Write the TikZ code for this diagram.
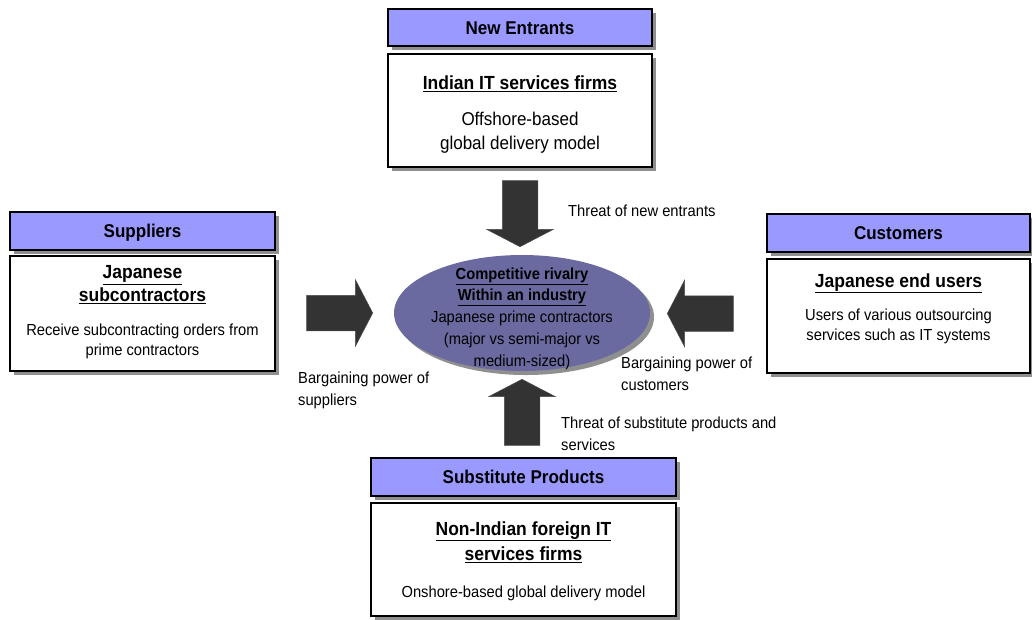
\documentclass[tikz,border=0pt]{standalone}
\usepackage{fontspec}
\setmainfont[FakeStretch=0.92]{Liberation Sans}
\usetikzlibrary{shapes.geometric,shapes.arrows,shadows}

\definecolor{headblue}{HTML}{9999FF}
\definecolor{rivalryfill}{HTML}{6A6AA0}
\definecolor{arrowgray}{HTML}{333333}
\definecolor{shadowgray}{HTML}{8F8F8F}

\newcommand{\headfont}{\fontsize{18.5}{22}\selectfont\bfseries}
\newcommand{\titlefont}{\fontsize{19}{25}\selectfont\bfseries}
\newcommand{\bodyfont}{\fontsize{16}{20}\selectfont}
\newcommand{\labelfont}{\fontsize{16}{22}\selectfont}

\begin{document}
\begin{tikzpicture}[x=10pt,y=10pt]
\tikzstyle{every node}+=[inner sep=0pt]
\tikzstyle{shadowed}=[drop shadow={shadow xshift=4pt,shadow yshift=-4pt,fill=shadowgray,opacity=1}]
\tikzstyle{forcehead}=[rectangle,draw=black,line width=2pt,fill=headblue,shadowed,font=\headfont,text height=13.2pt,text depth=0pt]
\tikzstyle{forcebox}=[rectangle,draw=black,line width=2pt,fill=white,shadowed]
\tikzstyle{boxtext}=[align=center,font=\bodyfont]
\tikzstyle{pusharrow}=[single arrow,draw=black!70,fill=arrowgray,line width=0.5pt,minimum height=66pt,minimum width=66pt,single arrow head extend=15.5pt,single arrow tip angle=125,inner ysep=17.5pt,anchor=tip]
\tikzstyle{forcelabel}=[align=left,anchor=west,font=\labelfont]
\useasboundingbox (0,0) rectangle (103.2,-61.9);

% new entrants
\node[forcehead,minimum width=264pt,minimum height=37pt] (entrantshead) at (52.0,-2.75) {New Entrants};
\node[forcebox,minimum width=264pt,minimum height=113pt] (entrantsbox) at (52.0,-11.05) {};
\node[boxtext,font=\fontsize{18.5}{24}\selectfont] (entrantstext) at (52.0,-11.5) {{\titlefont\underline{Indian IT services firms}}\\[12pt] Offshore-based\\ global delivery model};

% suppliers
\node[forcehead,minimum width=265pt,minimum height=38pt] (suppliershead) at (14.25,-23.1) {Suppliers};
\node[forcebox,minimum width=265pt,minimum height=115pt] (suppliersbox) at (14.25,-31.35) {};
\node[boxtext] (supplierstext) at (14.25,-31.25) {{\titlefont\underline{Japanese}}\\[3pt] {\titlefont\underline{subcontractors}}\\[14pt] Receive subcontracting orders from\\ prime contractors};

% customers
\node[forcehead,minimum width=263pt,minimum height=38pt] (customershead) at (89.85,-23.3) {Customers};
\node[forcebox,minimum width=263pt,minimum height=114pt] (customersbox) at (89.85,-31.6) {};
\node[boxtext] (customerstext) at (89.85,-30.85) {{\titlefont\underline{Japanese end users}}\\[13pt] Users of various outsourcing\\ services such as IT systems};

% substitutes
\node[forcehead,minimum width=305pt,minimum height=38pt] (substitutehead) at (52.35,-47.7) {Substitute Products};
\node[forcebox,minimum width=305pt,minimum height=113pt] (substitutebox) at (52.35,-55.95) {};
\node[boxtext] (substitutetext) at (52.35,-56.1) {{\titlefont\underline{Non-Indian foreign IT}}\\[5pt] {\titlefont\underline{services firms}}\\[17pt] Onshore-based global delivery model};

% rivalry in the middle
\node[ellipse,fill=rivalryfill,minimum width=256pt,minimum height=116pt,shadowed] (rivalry) at (52.2,-31.3) {};
\node[align=center,font=\fontsize{16}{21.7}\selectfont] (rivalrytext) at (52.2,-31.85) {{\bfseries\underline{Competitive rivalry}}\\ {\bfseries\underline{Within an industry}}\\ Japanese prime contractors\\ (major vs semi-major vs\\ medium-sized)};

% forces
\node[pusharrow,rotate=-90] (entryarrow) at (52.0,-24.7) {};
\node[pusharrow] (supplierarrow) at (37.3,-31.3) {};
\node[pusharrow,rotate=180] (customerarrow) at (66.7,-31.35) {};
\node[pusharrow,rotate=90] (substitutearrow) at (52.2,-37.9) {};

\node[forcelabel] (entrylabel) at (56.8,-21.1) {Threat of new entrants};
\node[forcelabel] (supplierlabel) at (29.8,-39.05) {Bargaining power of\\ suppliers};
\node[forcelabel] (customerlabel) at (62.1,-37.4) {Bargaining power of\\ customers};
\node[forcelabel] (substitutelabel) at (56.1,-43.4) {Threat of substitute products and\\ services};
\end{tikzpicture}
\end{document}
